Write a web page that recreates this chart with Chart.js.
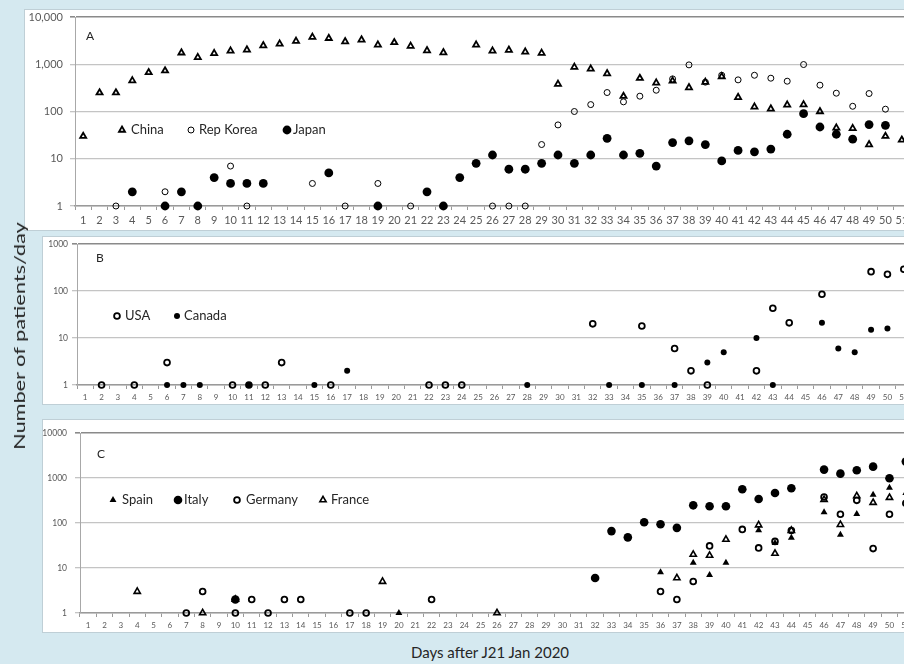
<!DOCTYPE html>
<html>
<head>
<meta charset="utf-8">
<script src="https://cdn.jsdelivr.net/npm/chart.js@4.4.1/dist/chart.umd.min.js"></script>
<style>
  html, body { margin: 0; padding: 0; }
  body {
    width: 904px; height: 664px; overflow: hidden; position: relative;
    background: #d5e9f0; font-family: Lato, "Open Sans", sans-serif;
  }
  canvas.panel { position: absolute; background: #fff; box-shadow: 0 0 0 1px #bfcfd6; }
  #ytitle {
    position: absolute; left: 19px; top: 336px; white-space: nowrap;
    font-size: 15px; color: #262626;
    transform: translate(-50%, -50%) rotate(-90deg) scaleX(1.45);
  }
  #xtitle {
    position: absolute; left: 490px; top: 652px; white-space: nowrap;
    font-size: 15px; color: #262626; transform: translate(-50%, -50%);
  }
</style>
</head>
<body>
<canvas id="panelA" class="panel" width="895" height="220" style="left:25px;top:10px"></canvas>
<canvas id="panelB" class="panel" width="881" height="167" style="left:43px;top:237px"></canvas>
<canvas id="panelC" class="panel" width="881" height="212" style="left:43px;top:420px"></canvas>
<div id="ytitle">Number of patients/day</div>
<div id="xtitle">Days after J21 Jan 2020</div>

<script>
// Day numbers on the horizontal axis
const days = ['1','2','3','4','5','6','7','8','9','10','11','12','13','14','15','16','17','18','19','20',
  '21','22','23','24','25','26','27','28','29','30','31','32','33','34','35','36','37','38','39','40',
  '41','42','43','44','45','46','47','48','49','50','51'];

// Vertical tick values and labels
const ticksA = [1, 10, 100, 1000, 10000];
const tickLabelsA = ['1', '10', '100', '1,000', '10,000'];
const ticksB = [1, 10, 100, 1000];
const tickLabelsB = ['1', '10', '100', '1000'];
const ticksC = [1, 10, 100, 1000, 10000];
const tickLabelsC = ['1', '10', '100', '1000', '10000'];

// New patients per day, days 1..51 (null = no report)
const china = [30,250,250,450,670,730,1750,1400,1700,1920,
  2020,2490,2700,3090,3750,3550,3020,3290,2570,2890,
  2420,1950,1770,null,2570,1920,2000,1830,1720,380,
  870,800,635,211,507,404,445,321,418,549,
  200,125,114,138,140,100,45,44,20,30,
  25];
const korea = [null,null,1,null,null,2,null,null,null,7,
  1,null,null,null,3,null,1,null,3,null,
  1,null,null,null,null,1,1,1,20,52,
  100,140,252,160,211,282,490,970,418,585,
  467,585,507,438,986,361,244,129,240,112,
  null];
const japan = [null,null,null,2,null,1,2,1,4,3,
  3,3,null,null,null,5,null,null,1,null,
  null,2,1,4,8,12,6,6,8,12,
  8,12,27,12,13,7,22,24,20,9,
  15,14,16,33,90,47,33,26,53,51,
  null];

const usa = [null,1,null,1,null,3,null,null,null,1,
  1,1,3,null,null,1,null,null,null,null,
  null,1,1,1,null,null,null,null,null,null,
  null,20,null,null,18,null,6,2,1,null,
  null,2,43,21,null,85,null,null,258,226,
  290];
const canada = [null,null,null,null,null,1,1,1,null,null,
  1,null,null,null,1,null,2,null,null,null,
  null,null,null,null,null,null,null,1,null,null,
  null,null,1,null,1,null,1,null,3,5,
  null,10,1,null,null,21,6,5,15,16,
  null];

const spain = [null,null,null,null,null,null,null,null,null,null,
  null,null,null,null,null,null,null,null,null,1,
  null,null,null,null,null,null,null,null,null,null,
  null,null,null,null,null,8,null,13,7,13,
  null,69,36,47,null,173,55,158,427,611,
  464];
const italy = [null,null,null,null,null,null,null,null,null,2,
  null,null,null,null,null,null,null,null,null,null,
  null,null,null,null,null,null,null,null,null,null,
  null,6,66,48,104,94,78,247,235,235,
  561,341,464,590,null,1536,1250,1483,1787,985,
  2313];
const germany = [null,null,null,null,null,null,1,3,null,1,
  2,1,2,2,null,null,1,1,null,null,
  null,2,null,null,null,null,null,null,null,null,
  null,null,null,null,null,3,2,5,31,null,
  72,28,39,68,null,378,156,319,27,156,
  275];
const france = [null,null,null,3,null,null,null,1,null,2,
  null,null,null,null,null,null,null,null,5,null,
  null,null,null,null,null,1,null,null,null,null,
  null,null,null,null,null,null,6,20,19,43,
  null,90,21,68,null,331,92,398,284,367,
  null];

Chart.defaults.font.family = 'Lato, "Open Sans", sans-serif';

const INK = '#000';
const NONE = 'rgba(0,0,0,0)';

// marker presets
const openTri  = (r, bw) => ({ pointStyle: 'triangle', pointRadius: r, pointBorderWidth: bw, pointBackgroundColor: NONE, pointBorderColor: INK });
const fillTri  = (r) => ({ pointStyle: 'triangle', pointRadius: r, pointBorderWidth: 0, pointBackgroundColor: INK, pointBorderColor: INK });
const openDot  = (r, bw) => ({ pointStyle: 'circle', pointRadius: r, pointBorderWidth: bw, pointBackgroundColor: NONE, pointBorderColor: INK });
const fillDot  = (r) => ({ pointStyle: 'circle', pointRadius: r, pointBorderWidth: 0, pointBackgroundColor: INK, pointBorderColor: INK });

function drawMarker(ctx, ds, x, y) {
  const r = ds.pointRadius, bw = ds.pointBorderWidth;
  ctx.beginPath();
  if (ds.pointStyle === 'triangle') {
    for (let k = 0; k < 3; k++) {
      const a = k * 2 * Math.PI / 3;
      const px = x + Math.sin(a) * r, py = y - Math.cos(a) * r;
      if (k) ctx.lineTo(px, py); else ctx.moveTo(px, py);
    }
    ctx.closePath();
  } else {
    ctx.arc(x, y, r, 0, 2 * Math.PI);
  }
  ctx.fillStyle = ds.pointBackgroundColor;
  ctx.fill();
  if (bw > 0) {
    ctx.lineWidth = bw;
    ctx.strokeStyle = ds.pointBorderColor;
    ctx.stroke();
  }
}

// Panel letter and an inline key drawn inside the plot area
const inlineKey = {
  id: 'inlineKey',
  afterDraw(chart, args, opts) {
    const ctx = chart.ctx;
    ctx.save();
    ctx.textBaseline = 'middle';
    ctx.textAlign = 'left';
    ctx.fillStyle = '#262626';
    ctx.font = `${opts.letterSize}px Lato, "Open Sans", sans-serif`;
    ctx.fillText(opts.letter, opts.letterX, opts.letterY);
    ctx.font = `${opts.fontSize}px Lato, "Open Sans", sans-serif`;
    chart.data.datasets.forEach((ds, i) => {
      const it = opts.items[i];
      drawMarker(ctx, ds, it.mx, opts.y);
      ctx.fillStyle = '#262626';
      ctx.fillText(ds.label, it.tx, opts.y);
    });
    ctx.restore();
  }
};

function makePanel(id, cfg) {
  const topVal = cfg.ticks[cfg.ticks.length - 1];
  return new Chart(document.getElementById(id), {
    type: 'line',
    data: {
      labels: days,
      datasets: cfg.series.map(s => Object.assign({
        label: s.label, data: s.data, showLine: false, clip: false
      }, s.marker))
    },
    plugins: [inlineKey],
    options: {
      responsive: false, animation: false, devicePixelRatio: 1,
      layout: { padding: cfg.padding },
      plugins: {
        legend: { display: false }, tooltip: { enabled: false },
        inlineKey: cfg.key
      },
      scales: {
        x: {
          type: 'category', offset: true,
          grid: { offset: true, drawOnChartArea: false, drawTicks: true, tickLength: 4, color: '#9a9a9a', lineWidth: 1 },
          border: { display: true, color: '#9a9a9a', width: 1.5 },
          ticks: { autoSkip: false, maxRotation: 0, minRotation: 0, color: '#595959',
                   font: { size: cfg.xFont }, padding: cfg.xPad },
          afterFit: s => { s.height = cfg.xHeight; s.paddingLeft = 0; s.paddingRight = 0; }
        },
        y: {
          type: 'logarithmic', min: 1, max: topVal,
          afterBuildTicks: s => { s.ticks = cfg.ticks.map(v => ({ value: v })); },
          afterFit: s => { s.width = cfg.yWidth; s.paddingTop = 0; s.paddingBottom = 0; },
          ticks: { color: '#595959', font: { size: cfg.yFont }, padding: cfg.yPad,
                   callback: (v, i) => cfg.tickLabels[i] },
          grid: {
            color: c => (c.tick && c.tick.value === topVal) ? '#8a8a8a' : '#c4c4c4',
            lineWidth: c => (c.tick && c.tick.value === topVal) ? 1.6 : 1.3,
            tickLength: 5, drawTicks: true
          },
          border: { display: true, color: '#a8a8a8', width: 1 }
        }
      }
    }
  });
}

makePanel('panelA', {
  ticks: ticksA, tickLabels: tickLabelsA,
  padding: { left: 0, top: 7, right: 10, bottom: 0 },
  yWidth: 50, xHeight: 24, xFont: 11, yFont: 11, xPad: 4, yPad: 7,
  series: [
    { label: 'China', data: china, marker: openTri(3.5, 1.8) },
    { label: 'Rep Korea', data: korea, marker: openDot(3, 1) },
    { label: 'Japan', data: japan, marker: fillDot(4.4) }
  ],
  key: { letter: 'A', letterX: 61, letterY: 26, letterSize: 12, fontSize: 13, y: 120,
         items: [{ mx: 97, tx: 106 }, { mx: 166, tx: 174 }, { mx: 262, tx: 268 }] }
});

makePanel('panelB', {
  ticks: ticksB, tickLabels: tickLabelsB,
  padding: { left: 0, top: 7, right: 12, bottom: 0 },
  yWidth: 34, xHeight: 19, xFont: 8, yFont: 8.5, xPad: 4, yPad: 4,
  series: [
    { label: 'USA', data: usa, marker: openDot(2.9, 1.8) },
    { label: 'Canada', data: canada, marker: fillDot(3) }
  ],
  key: { letter: 'B', letterX: 53, letterY: 21, letterSize: 12, fontSize: 13, y: 79,
         items: [{ mx: 74, tx: 82 }, { mx: 134, tx: 141 }] }
});

makePanel('panelC', {
  ticks: ticksC, tickLabels: tickLabelsC,
  padding: { left: 0, top: 13, right: 10, bottom: 0 },
  yWidth: 37, xHeight: 19, xFont: 8, yFont: 8.5, xPad: 3.5, yPad: 8,
  series: [
    { label: 'Spain', data: spain, marker: fillTri(4) },
    { label: 'Italy', data: italy, marker: fillDot(4.3) },
    { label: 'Germany', data: germany, marker: openDot(2.9, 1.8) },
    { label: 'France', data: france, marker: openTri(3.6, 1.6) }
  ],
  key: { letter: 'C', letterX: 54, letterY: 34, letterSize: 12, fontSize: 13, y: 80,
         items: [{ mx: 70, tx: 79 }, { mx: 135, tx: 141 }, { mx: 194, tx: 203 }, { mx: 280, tx: 288 }] }
});
</script>
</body>
</html>
